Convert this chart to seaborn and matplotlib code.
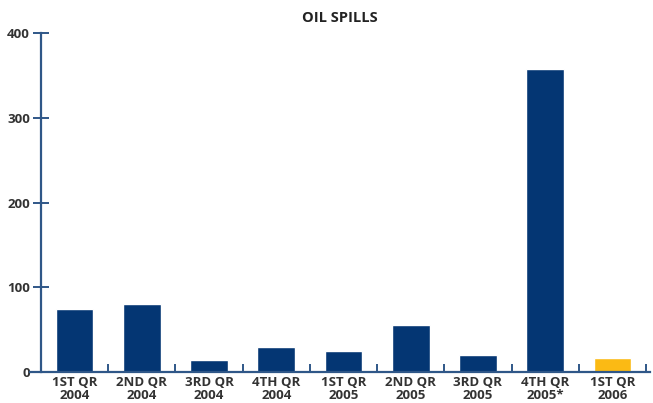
import matplotlib
matplotlib.use('Agg')
import matplotlib.pyplot as plt
import seaborn as sns
import pandas as pd

# quarter labels and number of spills
quarters = ['1ST QR\n2004', '2ND QR\n2004', '3RD QR\n2004', '4TH QR\n2004',
            '1ST QR\n2005', '2ND QR\n2005', '3RD QR\n2005', '4TH QR\n2005*',
            '1ST QR\n2006']
spills = [74, 80, 14, 30, 25, 56, 20, 358, 16]
bar_colors = ['#043673'] * 8 + ['#FBBA14']

df = pd.DataFrame({'quarter': quarters, 'spills': spills})

sns.set_theme(style='white')
plt.rcParams['font.family'] = ['Open Sans', 'DejaVu Sans']

fig = plt.figure(figsize=(6.53, 4.03), dpi=100)
ax = fig.add_axes([30 / 653, 31 / 403, 620 / 653, 339 / 403])

sns.barplot(data=df, x='quarter', y='spills', hue='quarter',
            palette=bar_colors, width=0.56, legend=False, ax=ax,
            saturation=1)

axis_col = '#2f5788'
ax.set_xlim(-0.664, 8.56)
ax.set_ylim(0, 400)
for s in ['top', 'right']:
    ax.spines[s].set_visible(False)
ax.spines['left'].set_position(('data', -0.5))
for s in ['left', 'bottom']:
    ax.spines[s].set_color(axis_col)
    ax.spines[s].set_linewidth(1.6)

ax.set_yticks([0, 100, 200, 300, 400])
ax.tick_params(axis='y', left=True, direction='inout', length=12, width=1.4,
               color=axis_col, labelsize=9.5, labelcolor='#333333', pad=2)
ax.set_xticks(range(9))
ax.set_xticks([i + 0.5 for i in range(9)], minor=True)
ax.tick_params(axis='x', which='major', bottom=False, length=0,
               labelsize=9.5, labelcolor='#333333', pad=3)
ax.tick_params(axis='x', which='minor', bottom=True, direction='in',
               length=6, width=1.4, color=axis_col)
for lab in ax.get_xticklabels() + ax.get_yticklabels():
    lab.set_fontweight('bold')
for lab in ax.get_xticklabels():
    lab.set_linespacing(0.95)

ax.set_xlabel('')
ax.set_ylabel('')
ax.set_title('OIL SPILLS', fontsize=10.5, fontweight='bold', color='#222222',
             pad=8)

fig.savefig('out.png', dpi=100)
